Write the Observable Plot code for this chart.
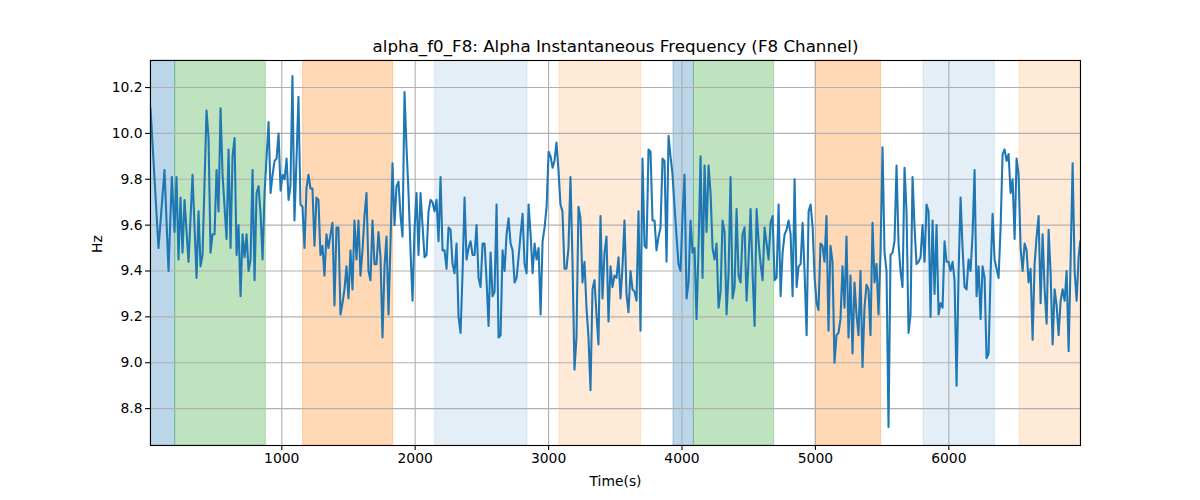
<!DOCTYPE html>
<html>
<head>
<meta charset="utf-8">
<script src="https://cdn.jsdelivr.net/npm/d3@7"></script>
<script src="https://cdn.jsdelivr.net/npm/@observablehq/plot@0.6"></script>
<style>
  html, body { margin: 0; padding: 0; background: white; }
  #chart { width: 1200px; height: 500px; }
</style>
</head>
<body>
<div id="chart"></div>
<script>
const chartTitle = "alpha_f0_F8: Alpha Instantaneous Frequency (F8 Channel)";
const xLabel = "Time(s)";
const yLabel = "Hz";
const xDomain = [16, 6987];
const yDomain = [8.639, 10.318];
const xTicks = [1000, 2000, 3000, 4000, 5000, 6000];
const yTicks = [8.8, 9.0, 9.2, 9.4, 9.6, 9.8, 10.0, 10.2];

const bandStarts = [16, 201, 1160, 2150, 3082, 3936, 4089, 5000, 5810, 6530];
const bandEnds   = [201, 880, 1835, 2842, 3694, 4089, 4691, 5493, 6345, 6987];
const bandKinds  = ["blue", "green", "orange", "blue-light", "orange-light",
                    "blue", "green", "orange", "blue-light", "orange-light"];

const times = [
  16,76,121,151,176,196,211,226,241,256,271,301,331,361,376,391,406,436,451,466,
  481,496,511,526,541,556,586,601,616,631,646,661,676,691,706,721,736,751,766,781,
  796,811,826,841,856,871,901,916,931,946,961,976,991,1006,1021,1036,1051,
  1065,1080,1095,1110,1125,1140,1155,1170,1185,1200,1215,1230,1245,1260,1275,1290,1305,1320,1335,1350,
  1365,1380,1395,1410,1425,1440,1455,1470,1485,1500,1515,1530,1545,1560,1575,1590,1605,1620,1635,1650,
  1665,1680,1695,1710,1725,1740,1755,1770,1785,1800,1815,1830,1845,1860,1875,1890,1905,1920,1935,1950,
  1965,1980,1995,2010,2025,2040,
  2070,2085,2100,2115,2130,2145,2160,2175,2190,2205,2220,2235,2250,2265,2280,2295,2310,2325,2340,2355,
  2370,2385,2400,2415,2430,2445,2460,2475,2490,2505,2520,2535,2550,2565,2580,2595,2610,2625,2640,2655,
  2670,2685,2700,2715,2730,2745,2760,2775,2790,2805,2820,2835,2850,2865,2880,2895,2910,2925,2940,2955,
  2970,2985,3000,3015,3030,
  3044,3059,3074,3089,3104,3119,3134,3149,3164,3179,3194,3209,3224,3239,3254,3269,3284,3299,3314,3329,
  3344,3359,3374,3389,3404,3419,3434,3449,3464,3479,3494,3509,3524,3539,3554,3569,3584,3599,3614,3629,
  3644,3659,3674,3689,3704,3719,3734,3749,3764,3779,3794,3809,3824,3839,3854,3869,3884,3899,3914,3929,
  3944,3959,3974,3989,4004,4019,
  4034,4049,4064,4079,4094,4109,4124,4139,4154,4169,4184,4199,4214,4229,4244,4259,4274,4289,4304,4319,
  4334,4349,4364,4379,4394,4409,4424,4439,4454,4469,4484,4499,4514,4529,4544,4559,4574,4589,4604,4619,
  4634,4649,4664,4679,4694,4709,4724,4739,4754,4769,4784,4799,4814,4829,4844,4859,4874,4889,4904,4919,
  4934,4949,4964,4979,4994,5009,
  5023,5038,5053,5068,5083,5098,5113,5128,5143,5158,5173,5188,5203,5218,5233,5248,5263,5278,5293,5308,
  5323,5338,5353,5368,5383,5398,5413,5428,5443,5458,5473,5488,5503,5518,5533,5548,5563,5578,5593,5608,
  5623,5638,5653,5668,5683,5698,5713,5728,5743,5758,5773,5788,5803,5818,5833,5848,5863,5878,5893,5908,
  5923,5938,5953,5968,5983,5998,
  6013,6028,6043,6058,6073,6088,6103,6118,6133,6148,6163,6178,6193,6208,6223,6238,6253,6268,6283,6298,
  6313,6328,6343,6358,6373,6388,6403,6418,6433,6448,6463,6478,6493,6508,6523,6538,6553,6568,6583,6598,
  6613,6628,6643,6658,6673,6688,6703,6718,6733,6748,6763,6778,6793,6808,6823,6838,6853,6868,6883,6898,
  6913,6928,6943,6958,6973,6985
];

const freq = [
  10.11,9.50,9.84,9.40,9.81,9.57,9.81,9.45,9.72,9.48,9.71,9.44,9.82,9.37,9.66,9.42,9.47,10.10,9.98,9.48,
  9.56,9.56,9.84,9.66,10.11,9.82,9.54,9.93,9.50,9.90,9.98,9.47,9.60,9.29,9.56,9.46,9.56,9.40,9.45,9.84,
  9.36,9.74,9.77,9.65,9.45,9.74,10.05,9.74,9.82,9.88,9.89,10.00,9.75,9.82,9.80,9.89,9.71,
  9.77,10.25,9.62,9.88,10.16,9.69,9.68,9.50,9.76,9.82,9.76,9.76,9.51,9.72,9.71,9.47,9.51,9.38,9.56,9.50,
  9.56,9.61,9.25,9.59,9.59,9.21,9.26,9.32,9.42,9.28,9.49,9.32,9.62,9.45,9.62,9.38,9.49,9.64,9.74,9.40,
  9.36,9.62,9.43,9.43,9.57,9.46,9.11,9.42,9.55,9.21,9.52,9.87,9.60,9.77,9.79,9.64,9.55,10.18,9.94,9.74,
  9.49,9.27,9.58,9.74,9.47,9.74,
  9.46,9.47,9.66,9.71,9.70,9.66,9.71,9.53,9.81,9.49,9.49,9.41,9.59,9.58,9.43,9.39,9.52,9.20,9.13,9.39,
  9.72,9.45,9.50,9.53,9.47,9.47,9.60,9.37,9.33,9.52,9.52,9.36,9.16,9.48,9.29,9.31,9.69,9.11,9.12,9.49,
  9.40,9.56,9.63,9.52,9.49,9.35,9.37,9.46,9.56,9.65,9.43,9.39,9.69,9.56,9.39,9.52,9.45,9.50,9.21,9.53,
  9.59,9.68,9.92,9.90,9.85,
  9.88,9.96,9.84,9.69,9.66,9.41,9.41,9.50,9.81,9.45,8.97,9.11,9.68,9.63,9.35,9.44,9.24,9.11,8.88,9.32,
  9.36,9.21,9.08,9.64,9.28,9.48,9.55,9.18,9.42,9.33,9.38,9.37,9.46,9.28,9.42,9.62,9.30,9.22,9.40,9.32,
  9.31,9.27,9.66,9.14,9.89,9.51,9.50,9.93,9.92,9.62,9.62,9.49,9.55,9.59,9.89,9.88,9.44,9.99,9.90,9.82,
  9.68,9.55,9.43,9.40,9.64,9.82,
  9.28,9.35,9.62,9.48,9.50,9.19,9.50,9.90,9.37,9.86,9.57,9.86,9.74,9.50,9.45,9.52,9.24,9.31,9.62,9.57,
  9.21,9.39,9.81,9.28,9.33,9.67,9.38,9.35,9.56,9.59,9.27,9.45,9.67,9.39,9.16,9.67,9.53,9.43,9.36,9.59,
  9.52,9.45,9.61,9.64,9.36,9.37,9.69,9.29,9.48,9.56,9.58,9.62,9.56,9.29,9.80,9.33,9.42,9.43,9.61,9.39,
  9.12,9.66,9.69,9.59,9.37,9.26,
  9.23,9.52,9.51,9.44,9.64,9.14,9.51,9.44,9.00,9.12,9.13,9.19,9.42,9.24,9.55,9.11,9.38,9.04,9.35,9.21,
  9.12,9.40,8.98,9.24,9.34,9.32,9.12,9.61,9.35,9.43,9.21,9.48,9.94,9.48,9.40,8.72,9.47,9.48,9.53,9.86,
  9.52,9.40,9.33,9.85,9.66,9.13,9.21,9.81,9.59,9.43,9.44,9.46,9.60,9.44,9.69,9.66,9.20,9.62,9.30,9.60,
  9.21,9.26,9.24,9.53,9.44,9.44,
  9.40,9.44,9.36,8.90,9.39,9.72,9.50,9.33,9.32,9.45,9.40,9.56,9.84,9.29,9.42,9.19,9.42,9.37,9.02,9.04,
  9.39,9.65,9.45,9.41,9.37,9.59,9.91,9.93,9.88,9.91,9.74,9.80,9.54,9.89,9.82,9.50,9.40,9.52,9.49,9.35,
  9.41,9.10,9.43,9.55,9.64,9.26,9.56,9.32,9.17,9.58,9.39,9.08,9.32,9.25,9.12,9.27,9.32,9.27,9.40,9.05,
  9.45,9.87,9.40,9.27,9.46,9.53
];

// styles for band kinds (matplotlib tab colours with alpha)
const bandStyle = {
  "blue":         "rgba(31,119,180,0.30)",
  "green":        "rgba(44,160,44,0.30)",
  "orange":       "rgba(255,127,14,0.30)",
  "blue-light":   "rgba(31,119,180,0.12)",
  "orange-light": "rgba(255,127,14,0.16)"
};

const bands = bandStarts.map((s, i) => ({start: s, end: bandEnds[i], kind: bandKinds[i]}));
const n = Math.min(times.length, freq.length);
const series = d3.range(n).map(i => ({t: times[i], v: freq[i]}));

const chart = Plot.plot({
  width: 1200,
  height: 500,
  marginTop: 60,
  marginRight: 120,
  marginBottom: 55,
  marginLeft: 150,
  style: {fontFamily: "'DejaVu Sans', sans-serif", fontSize: "13.9px", background: "white", color: "black", overflow: "visible"},
  x: {domain: xDomain, label: null},
  y: {domain: yDomain, label: null},
  marks: [
    Plot.rect(bands, {
      x1: "start", x2: "end", y1: yDomain[0], y2: yDomain[1],
      fill: d => bandStyle[d.kind],
      stroke: d => bandStyle[d.kind],
      strokeWidth: 1
    }),
    Plot.gridX(xTicks, {stroke: "#b0b0b0", strokeOpacity: 1, strokeWidth: 1.1}),
    Plot.gridY(yTicks, {stroke: "#b0b0b0", strokeOpacity: 1, strokeWidth: 1.1}),
    Plot.line(series, {x: "t", y: "v", stroke: "#1f77b4", strokeWidth: 2.08, clip: true}),
    Plot.frame({stroke: "black", strokeWidth: 1.1}),
    Plot.axisX(xTicks, {tickSize: 4.9, tickPadding: 3, strokeWidth: 1.1, tickFormat: d3.format("d"), label: null, fontSize: 13.9}),
    Plot.axisY(yTicks, {tickSize: 4.9, tickPadding: 3, strokeWidth: 1.1, tickFormat: d3.format(".1f"), label: null, fontSize: 13.9}),
    Plot.text([chartTitle], {frameAnchor: "top", lineAnchor: "middle", dy: -14, fontSize: 16.7, fill: "black"}),
    Plot.text([xLabel], {frameAnchor: "bottom", lineAnchor: "middle", dy: 36, fontSize: 13.9, fill: "black"}),
    Plot.text([yLabel], {frameAnchor: "left", lineAnchor: "middle", dx: -53, rotate: -90, fontSize: 13.9, fill: "black"})
  ]
});
document.getElementById("chart").appendChild(chart);
</script>
</body>
</html>
